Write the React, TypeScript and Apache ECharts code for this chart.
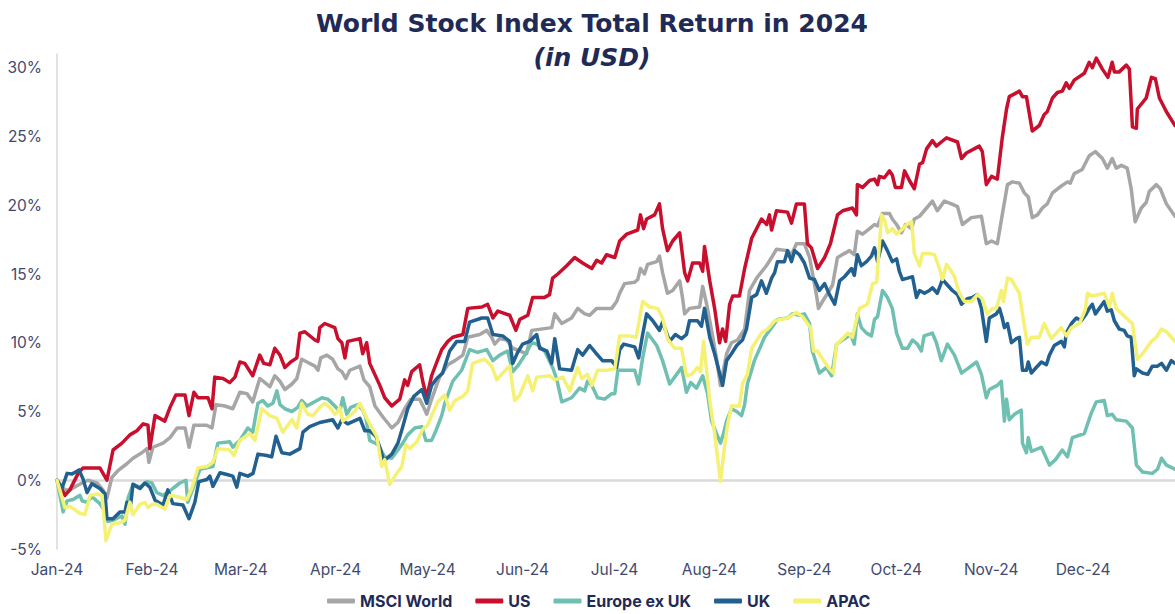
import { useEffect, useRef } from 'react';
import * as echarts from 'echarts';

// x values are days since 1 Jan 2024, y values are total return in %
const monthStartDays = [0, 31, 60, 91, 121, 152, 182, 213, 244, 274, 305, 335];
const monthLabels = ['Jan-24', 'Feb-24', 'Mar-24', 'Apr-24', 'May-24', 'Jun-24', 'Jul-24', 'Aug-24', 'Sep-24', 'Oct-24', 'Nov-24', 'Dec-24'];
const seriesNames = ['MSCI World', 'US', 'Europe ex UK', 'UK', 'APAC'];
const seriesColors = ['#a6a6a6', '#c8102e', '#70c0b2', '#21608f', '#f4f175'];
const titleText = 'World Stock Index Total Return in 2024';
const subtitleText = '(in USD)';

const msciWorld: [number, number][] = [[0,0],[2.6,-0.7],[4.2,-0.7],[6.5,-0.4],[8.2,-0.2],[10.1,0],[13.1,-0.2],[15,-0.7],[16.3,-1.3],[17.9,0.2],[19.9,0.7],[22.8,1.2],[24.8,1.6],[27.7,2.0],[29.4,2.3],[30,1.3],[31.3,2.4],[34.6,2.7],[36.9,3.1],[39.2,3.8],[41.8,3.8],[43.1,2.4],[44.7,4.0],[48.9,4.0],[50.6,3.8],[51.9,5.5],[54.8,5.4],[57.4,5.2],[59.7,6.4],[62,6.3],[63.9,5.7],[66.2,7.4],[67.9,7.1],[69.5,6.8],[71.1,7.6],[72.8,7.2],[74.4,6.6],[76.7,7.0],[78.3,7.4],[79.9,8.8],[81.6,8.6],[84.2,8.3],[85.2,8.0],[86.1,8.9],[88.1,9.1],[90,8.8],[91.7,8.1],[93,7.9],[94.3,7.4],[95.6,8.0],[98.9,8.3],[100.2,7.3],[102.1,6.8],[103.8,5.4],[106.4,4.6],[109.3,3.8],[111.3,4.2],[113.5,5.2],[115.5,5.9],[118.4,5.9],[119.7,5.3],[120.7,4.8],[122.3,5.9],[124.9,7.5],[127.6,8.4],[129.9,8.7],[132.5,9.1],[134.1,10.4],[138,10.6],[140.3,10.9],[141.9,10.4],[142.9,9.9],[144.5,10.3],[146.8,10.2],[148.8,9.6],[151.1,9.4],[153.3,9.2],[155,10.9],[161.5,11.1],[162.5,12.1],[164.8,11.4],[168,11.8],[170,12.5],[172.3,12.1],[173.9,12.0],[176.2,12.5],[181.1,12.5],[182.7,13.0],[183.7,13.6],[185.3,14.3],[188.6,14.4],[189.6,14.6],[190.5,15.4],[191.8,15.0],[192.8,15.7],[195.8,15.9],[196.7,16.3],[197.7,15.1],[199.3,13.6],[201,13.8],[203.3,14.5],[204.2,13.3],[204.9,12.1],[206.5,12.5],[209.8,12.6],[210.8,14.1],[212.1,12.8],[213.7,10.9],[215.3,8.9],[216.6,6.9],[218.6,9.2],[220.2,10.0],[222.2,10.2],[224.5,11.0],[226.1,13.8],[228.4,14.7],[231.6,15.6],[233.3,16.2],[234.9,16.8],[238.5,16.7],[239.8,16.4],[241.4,17.2],[244,17.2],[245.7,16.2],[248,13.4],[248.6,12.5],[249.9,13.0],[251.6,13.6],[253.2,14.2],[254.8,16.2],[258.7,16.7],[260.3,16.4],[261.3,18.1],[263,17.9],[265.3,18.3],[266.9,18.6],[267.9,18.5],[269.5,19.4],[271.8,19.4],[272.7,19.0],[274.1,18.6],[275.7,18.0],[277,18.6],[279,18.3],[279.9,19.0],[281.6,19.2],[283.9,19.8],[285.8,20.3],[287.4,19.6],[289.7,20.3],[292,20.1],[294,19.9],[295.6,18.6],[298.5,19.1],[301.8,19.2],[303.4,17.2],[305.1,17.4],[307,17.2],[308.6,19.3],[310.3,21.5],[311.9,21.7],[314.2,21.6],[315.8,20.9],[317.1,20.6],[318.4,19.1],[320.1,19.3],[321.7,19.8],[323.3,20.1],[325,20.9],[327.9,21.4],[329.9,21.7],[330.8,21.6],[332.1,22.3],[334.7,22.6],[337,23.6],[339,23.9],[341.3,23.4],[342.9,22.7],[344.5,23.4],[345.8,22.7],[347.5,22.9],[349.4,22.7],[350.7,21.2],[352,18.8],[354,19.8],[355.6,20.2],[356.6,21.0],[358.9,21.5],[360.2,21.2],[362.2,20.1],[365,19.2]];

const us: [number, number][] = [[0,0],[2.6,-1.1],[4.2,-0.7],[6.9,0.5],[8.5,0.9],[14,0.9],[16.3,0],[18.3,2.2],[21.2,2.7],[23.8,3.3],[26.1,3.6],[28.1,4.1],[29.7,4.0],[30.3,2.3],[32,4.7],[35.2,4.3],[36.9,5.3],[38.8,6.2],[41.8,6.2],[43.1,4.7],[44.7,6.4],[46,6.0],[49.3,6.0],[50.6,5.2],[51.5,7.5],[54.2,7.4],[56.4,7.1],[58.1,7.5],[59.7,8.6],[61.3,8.5],[63.9,7.6],[66.2,9.1],[67.5,8.5],[69.5,8.4],[71.1,9.6],[72.8,9.1],[74.4,8.2],[76.3,8.6],[78.3,8.9],[79.3,10.7],[80.9,10.8],[84.2,10.2],[85.2,10.1],[85.8,11.1],[87.4,11.4],[90.7,11.1],[91.7,10.3],[93,10.0],[94,8.9],[94.9,10.1],[98.9,10.3],[99.8,9.2],[101.1,10.0],[102.1,8.5],[105.4,6.9],[107,6.0],[109.3,5.4],[111.9,5.9],[113.5,7.3],[114.5,6.9],[115.8,7.9],[118.4,8.4],[119.4,7.2],[120.7,6.0],[122.3,7.6],[124,8.6],[125.6,9.5],[127.6,10.1],[129.2,10.4],[132.5,10.6],[134.1,12.5],[138.7,12.6],[140.6,12.8],[142.3,11.8],[143.9,12.3],[147.8,12.0],[149.8,10.9],[151.1,11.7],[153.7,12.0],[155.3,13.3],[159.2,13.3],[160.8,13.5],[161.8,14.7],[163.5,15.0],[166.4,15.6],[169,16.2],[171.6,15.8],[174.6,15.4],[176.2,16.0],[177.8,15.8],[179.4,16.4],[182.1,16.2],[183.7,17.4],[186,17.9],[189.6,18.2],[190.5,19.3],[191.5,18.3],[192.5,19.0],[195.1,19.3],[196.7,20.1],[197.7,18.3],[199.3,16.7],[201,17.4],[203.3,18.0],[204.9,15.1],[205.9,14.5],[207.5,15.8],[209.8,15.8],[210.8,15.2],[211.4,17.0],[213.1,14.5],[214.7,12.5],[216.3,10.0],[217.3,11.0],[218.3,10.1],[219.6,12.8],[220.6,13.4],[222.8,13.4],[224.5,15.4],[226.8,17.6],[230,19.0],[231.7,18.6],[232.6,19.3],[233.3,18.2],[234.9,19.6],[238.5,19.5],[239.8,18.7],[241.4,20.1],[244,20.1],[245,17.2],[246.3,16.9],[248.3,15.4],[250.6,16.2],[252.5,17.2],[254.8,19.3],[256.5,19.6],[259.7,19.8],[261,19.3],[261.3,21.5],[263,21.3],[265.3,21.8],[266.9,21.9],[267.9,21.5],[268.5,22.1],[270.1,22.0],[271.8,22.5],[272.7,22.2],[273.7,21.3],[275.7,21.3],[276.7,22.5],[278.3,21.8],[279.9,21.2],[281.6,23.0],[282.6,23.1],[283.9,24.1],[285.8,24.7],[287.1,24.3],[288.7,24.6],[290.4,24.9],[294,24.6],[295.3,23.4],[296.9,23.8],[301.1,24.3],[302.1,23.9],[303.4,21.5],[305.1,22.1],[307,21.9],[308.6,24.9],[310,27.0],[310.9,27.9],[312.6,28.1],[314.2,28.3],[315.2,27.9],[316.5,27.9],[318.4,25.4],[320.7,25.8],[322.3,26.6],[323.3,26.8],[325,27.8],[326.6,28.2],[328.2,28.3],[329.5,28.9],[330.5,28.5],[332.1,29.1],[335.4,29.6],[337,30.4],[338,30.0],[339.3,30.7],[341.3,29.9],[343.1,29.3],[344.5,30.4],[345.2,29.7],[346.8,29.7],[349.1,30.2],[350.1,29.9],[351.1,25.7],[352.4,25.6],[352.7,27.0],[355.6,27.8],[357.3,29.3],[358.6,29.2],[359.9,27.8],[362.2,26.8],[365,25.8]];

const europeExUk: [number, number][] = [[0,0],[2,-2.3],[3.3,-1.5],[5.2,-1.4],[7.5,-1.1],[8.2,-1.5],[9.8,-1.6],[11.4,-1.2],[14,-1.7],[15.7,-2.3],[16.6,-3.0],[18.3,-2.9],[21.2,-2.6],[22.2,-3.2],[23.2,-1.3],[24.8,-0.3],[27.1,-0.5],[29.4,-0.1],[31,-0.2],[32.6,-0.9],[34.6,-1.1],[36.2,-0.9],[37.8,-0.6],[40.1,-0.2],[42.1,0],[42.7,-1.6],[44.4,-0.6],[46.7,0.8],[48.9,0.9],[50.9,1.0],[52.5,2.7],[56.4,2.8],[57.4,2.4],[59.7,2.9],[62.3,3.8],[63.9,3.5],[65.6,5.6],[67.2,5.8],[68.8,5.4],[70.5,5.6],[71.8,6.5],[72.8,5.5],[74.4,5.2],[76.7,5.0],[78.6,5.3],[79.9,5.8],[81.6,5.4],[83.2,5.6],[86.5,6.0],[88.4,5.9],[90.7,5.4],[92.3,5.0],[93.3,6.0],[94.6,4.8],[95.9,5.3],[98.2,5.5],[99.8,5.1],[100.8,4.6],[102.1,2.9],[104.7,2.6],[107,1.7],[109.3,1.6],[111.3,2.2],[112.9,2.7],[114.5,3.3],[116.8,3.8],[119.1,3.9],[120.4,2.9],[122.3,2.9],[123.7,3.6],[125.6,4.7],[126.6,5.6],[129.2,7.2],[132.1,8.0],[134.7,9.5],[137.3,9.3],[140.3,9.5],[142.3,8.7],[144.5,9.1],[147.1,9.4],[148.8,7.9],[150.7,8.4],[153.3,9.3],[155,10.0],[156.6,9.9],[159.2,9.4],[161.8,8.2],[163.1,7.4],[164.8,5.7],[168,6.0],[170.6,6.7],[172.3,6.5],[173.2,7.2],[174.6,6.9],[176.5,6.0],[178.8,5.9],[181.1,6.3],[182.1,6.3],[183.1,8.0],[188.6,8.0],[189.9,7.0],[191.2,8.9],[192.8,10.7],[195.8,9.8],[197.7,8.7],[200,7.0],[202.3,7.7],[203.9,8.2],[205.5,6.4],[206.9,7.1],[208.8,6.7],[210.8,7.6],[212.4,6.3],[213.7,4.3],[215.3,3.4],[216.6,2.7],[217.6,3.4],[218.6,4.3],[220.2,5.2],[221.9,5.0],[223.5,4.7],[224.5,5.5],[225.4,7.0],[227.7,8.7],[231,10.4],[233.3,11.1],[235.2,11.7],[238.5,11.8],[240.1,12.1],[242.4,12.0],[244,12.1],[245.7,11.4],[246.6,9.4],[248.9,7.8],[251.2,8.2],[252.9,7.6],[254.5,9.9],[257.8,10.4],[259.1,10.6],[260.3,9.9],[261.3,12.1],[262.6,11.1],[264.3,10.7],[265.9,10.5],[266.9,11.7],[267.9,11.9],[269.5,13.8],[271.1,13.3],[272.7,12.5],[274.1,10.7],[276,9.6],[277.7,9.6],[279.3,10.2],[280.9,9.9],[282.2,9.4],[283.1,10.5],[285.8,10.7],[287.1,10.0],[288.7,8.7],[290.7,9.9],[293,9.1],[295.3,7.8],[297.2,8.1],[300.2,8.6],[301.8,7.7],[303.4,6.0],[304.4,6.6],[307,6.9],[308.3,7.2],[309.3,4.3],[310,5.9],[310.9,4.4],[312.6,4.8],[314.8,5.1],[315.2,2.7],[316.5,2.0],[317.1,3.1],[318.1,2.1],[321.4,2.4],[324,1.1],[326,1.5],[328.2,2.2],[329.9,1.7],[331.5,3.1],[335.4,3.4],[337.7,4.9],[339.3,5.7],[341.9,5.8],[342.9,4.7],[344.5,4.8],[345.8,4.4],[349.1,4.3],[351.1,3.8],[352.4,1.1],[354.4,0.6],[357.6,0.5],[359.3,0.8],[360.6,1.6],[362.2,1.1],[365,0.8]];

const uk: [number, number][] = [[0,0],[1.6,-0.6],[3.3,0.5],[4.9,0.45],[7.2,0.75],[8.5,0.1],[9.8,-0.9],[11.4,-0.25],[14,-0.6],[15.7,-1.0],[16.3,-2.8],[18.3,-2.8],[20.6,-2.3],[22.2,-2.3],[22.8,-1.6],[24.1,-1.7],[24.8,-0.3],[27.1,-0.6],[28.7,-0.2],[30.3,-0.5],[32,-1.45],[34.6,-1.8],[36.2,-0.7],[37.8,-1.7],[41.1,-1.8],[43.1,-2.8],[45,-1.6],[46.3,-0.1],[48.9,0.05],[49.9,0.3],[50.9,-0.45],[53.2,0.55],[55.8,0.4],[57.4,0.3],[58.7,-0.5],[59.7,0.5],[62.3,0.3],[64,0.5],[65.6,1.9],[68.5,1.8],[70.1,1.7],[71.5,3.2],[73.4,2.0],[76,1.9],[79.3,2.3],[80.3,3.5],[82.5,3.9],[85.8,4.2],[90,4.4],[91.7,3.8],[93,4.4],[94.9,4.1],[98.9,4.5],[100.5,3.6],[102.1,3.6],[104.1,3.2],[105.4,2.4],[106.7,1.4],[109.3,1.9],[111.3,2.7],[112.9,3.9],[114.5,5.2],[116.5,6.1],[119.1,6.6],[120.7,5.6],[122.3,6.9],[124,7.4],[125.9,7.8],[128.2,9.4],[130.5,10.1],[133.1,10.1],[134.7,11.5],[138.7,11.8],[140.6,11.8],[142.3,10.6],[145.5,10.5],[147.8,10.1],[148.8,8.5],[150.4,9.3],[152,9.9],[154.3,10.1],[156.6,10.6],[157.6,9.6],[159.9,9.4],[161.5,8.5],[162.5,10.3],[164.1,8.1],[168,8.0],[170,9.5],[171.6,9.1],[173.9,9.8],[176.5,9.1],[178.1,8.7],[181.1,8.7],[182.7,8.2],[183.7,9.5],[185,9.9],[188.6,9.7],[189.9,8.9],[191.2,10.6],[192.5,12.1],[194.5,11.6],[196.7,10.9],[197.7,11.5],[200,10.1],[201.9,10.6],[203.9,10.3],[205.5,10.6],[206.5,11.6],[209.1,11.6],[210.4,11.2],[211.4,12.5],[213.1,10.4],[214.7,9.2],[216.3,7.8],[217.3,6.9],[218.6,8.7],[220.2,9.2],[221.9,9.8],[223.8,10.2],[225.1,11.0],[226.8,13.3],[228.4,13.5],[230,14.5],[231.6,13.6],[233.3,14.7],[234.3,15.1],[235.2,15.9],[237.5,15.9],[238.5,16.7],[239.8,15.9],[240.8,16.7],[242.4,16.4],[244,15.8],[245.7,14.7],[247.3,14.6],[248.9,13.8],[250.6,14.3],[252.2,13.5],[253.9,12.8],[255.5,14.5],[257.1,14.8],[259.4,15.4],[260.3,14.9],[261.3,16.4],[262.6,15.6],[264.3,15.9],[265.9,16.3],[266.9,16.9],[267.9,15.9],[269.5,17.4],[271.1,16.7],[272.7,15.9],[274.1,16.1],[275,15.2],[276,14.6],[277.7,14.7],[279.3,14.8],[280.6,13.3],[281.6,13.8],[283.2,13.6],[284.8,13.8],[285.8,14.0],[287.4,13.6],[289.1,14.6],[290.7,14.2],[292.3,13.8],[294,13.5],[295.3,12.8],[297.2,13.2],[298.9,13.3],[300.5,13.5],[301.8,12.5],[303.4,10.1],[304.4,11.8],[306.7,12.1],[307.7,12.5],[308.6,11.8],[309.3,11.1],[310.3,11.4],[311.6,10.0],[313.2,10.3],[314.2,10.4],[315.2,8.0],[316.5,8.0],[317.1,8.6],[318.1,7.8],[319.7,8.2],[321.4,8.6],[323,8.4],[324,9.1],[325.6,9.8],[327.9,10.1],[328.9,9.7],[329.5,10.7],[331.2,11.4],[332.8,11.8],[334.4,11.6],[336,12.1],[337,12.5],[338,12.8],[339,12.1],[340.3,12.5],[341.9,13.0],[342.9,12.3],[344.2,12.4],[345.2,11.6],[346.8,11.0],[348.4,10.9],[349.4,10.5],[350.7,10.4],[351.7,7.6],[352.4,8.1],[354.4,7.8],[356.1,7.7],[357.6,8.3],[359.3,8.3],[360.6,8.5],[362.2,8.0],[363.8,8.7],[365,8.5]];

const apac: [number, number][] = [[0,0],[2.6,-2.0],[4.2,-1.9],[7.5,-2.4],[9.1,-2.5],[10.8,-1.1],[13,-1.0],[14.7,-1.1],[16,-4.4],[17.9,-3.2],[20.6,-3.1],[22.2,-2.9],[23.8,-1.6],[24.8,-2.5],[27.1,-1.75],[28.7,-1.6],[29.7,-2.0],[31,-1.75],[32.6,-1.75],[35.2,-2.1],[36.9,-1.1],[39.5,-1.2],[42.4,-1.4],[44,-0.6],[46,0.9],[48.9,1.0],[50.9,1.3],[52.5,2.3],[56.4,2.2],[57.7,1.8],[59.7,2.9],[63,3.4],[64.6,2.9],[66.9,5.2],[69.5,4.7],[71.8,4.5],[73.7,3.5],[76.7,4.4],[78.3,3.8],[79.9,5.6],[81.9,4.8],[83.5,4.7],[85.8,5.3],[87.4,5.6],[89.1,5.3],[90.7,4.8],[91.7,5.0],[92.3,5.3],[93.3,4.3],[95.6,4.7],[97.2,5.0],[98.9,5.6],[100.5,4.8],[102.8,3.8],[104.4,3.2],[106,1.0],[107,1.5],[108.6,-0.3],[110.9,0.5],[112.6,1.0],[113.9,2.6],[115.2,2.3],[117.5,2.8],[119.4,3.7],[121,4.0],[122.7,4.9],[124.3,5.7],[126.6,6.2],[128.2,5.1],[129.9,5.8],[132.5,6.1],[134.1,6.5],[135.7,8.5],[139.6,8.8],[141.9,8.3],[143.6,7.3],[145.5,7.8],[147.8,8.3],[149.4,5.8],[151.1,6.2],[153.7,7.6],[155.3,6.5],[156.6,7.5],[160.8,7.6],[162.5,7.3],[165.1,7.5],[167.4,6.5],[170,8.2],[171.3,7.4],[173.2,7.7],[174.6,6.9],[176.5,8.0],[179.4,8.0],[182.1,8.1],[183.7,10.5],[186.8,10.5],[189.1,10.4],[191.2,13.0],[193.5,12.6],[196.1,12.5],[197.7,11.8],[199.3,10.3],[201.6,9.6],[203.9,9.6],[205.5,7.6],[207.2,7.7],[209.1,8.2],[210.1,7.9],[211.1,10.1],[213.1,5.8],[214.7,3.4],[216.6,-0.1],[217.9,2.4],[218.9,4.0],[220.2,5.4],[222.8,5.4],[223.8,7.0],[225.4,7.7],[226.8,9.6],[230,10.7],[232,11.0],[234.3,11.6],[238.5,11.8],[241.4,12.2],[243.4,11.9],[245,11.4],[246,11.1],[247,9.4],[248.3,9.4],[250,8.8],[252.2,8.1],[253.5,7.8],[254.5,9.9],[256.5,10.3],[258.1,10.7],[259.7,10.4],[260.9,11.6],[262,12.5],[264.6,12.8],[266.3,14.3],[267.6,14.4],[269.2,19.3],[270.2,18.9],[271.2,18.0],[272.8,18.3],[274.1,17.9],[275.7,18.2],[277.4,18.6],[279,18.8],[279.9,16.5],[281.6,15.6],[282.6,16.5],[284.8,16.5],[286.5,16.4],[288.1,15.4],[289.1,14.6],[290.4,15.7],[292,15.2],[293,14.8],[294.6,13.6],[296.3,13.0],[298.5,13.0],[300.5,13.5],[302.1,13.2],[303.7,12.1],[305.4,12.5],[306.7,12.5],[307.7,13.3],[308.3,13.8],[309,13.0],[310.3,14.7],[311.6,14.6],[314.2,13.6],[315.2,12.1],[316.8,9.9],[318.1,10.4],[320.7,10.4],[322.3,11.4],[324.6,10.3],[327.9,11.1],[329.5,10.5],[331.2,11.1],[333.8,11.4],[335.7,12.4],[336.4,13.6],[338,13.4],[341.9,13.6],[343.6,12.6],[344.5,13.6],[345.8,12.5],[349.1,11.8],[351.1,11.4],[352.7,8.8],[354.4,9.2],[357.3,10.1],[358.9,10.4],[360.6,11.0],[362.2,10.8],[365,10.1]];

const allSeries = [msciWorld, us, europeExUk, uk, apac];

const FONT = 'Inter';
const TITLE_FONT = 'DejaVu Sans';
const NAVY = '#1f2a56';
const AXIS_TEXT = '#3f4a6e';

export default function App() {
  const ref = useRef<HTMLDivElement>(null);

  useEffect(() => {
    document.body.style.margin = '0';
    if (!ref.current) return;
    const chart = echarts.init(ref.current, undefined, { renderer: 'svg' });

    const series: any[] = allSeries.map((data, i) => ({
      name: seriesNames[i],
      type: 'line',
      data,
      showSymbol: false,
      symbol: 'none',
      lineStyle: { width: 3.5, color: seriesColors[i], join: 'round', cap: 'round' },
      itemStyle: { color: seriesColors[i] },
      emphasis: { disabled: true },
      z: 3 + i,
    }));
    series[0].markLine = {
      silent: true,
      symbol: 'none',
      label: { show: false },
      lineStyle: { color: '#d9d9d9', width: 2.5, type: 'solid' },
      data: [{ yAxis: 0 }],
      z: 1,
    };

    chart.setOption({
      animation: false,
      backgroundColor: '#ffffff',
      grid: { left: 57, right: 0, top: 54, bottom: 65, containLabel: false, outerBoundsMode: 'none' },
      graphic: [
        {
          type: 'text',
          x: 592,
          y: 23,
          style: {
            text: titleText,
            fontFamily: TITLE_FONT,
            fontWeight: 'bold',
            fontSize: 25,
            fill: NAVY,
            align: 'center',
            verticalAlign: 'middle',
          },
        },
        {
          type: 'text',
          x: 592,
          y: 57,
          style: {
            text: subtitleText,
            fontFamily: TITLE_FONT,
            fontWeight: 'bold',
            fontStyle: 'italic',
            fontSize: 25,
            fill: NAVY,
            align: 'center',
            verticalAlign: 'middle',
          },
        },
      ],
      legend: {
        data: seriesNames,
        left: 322,
        top: 588,
        icon: 'roundRect',
        itemWidth: 28,
        itemHeight: 5,
        itemGap: 23,
        textStyle: { fontFamily: FONT, fontWeight: 'bold', fontSize: 16, color: NAVY },
      },
      xAxis: {
        type: 'value',
        min: 0,
        max: 365,
        axisLine: { show: false },
        axisTick: { show: false },
        splitLine: { show: false },
        axisLabel: {
          customValues: monthStartDays,
          formatter: (v: number) => {
            const idx = monthStartDays.indexOf(v);
            return idx >= 0 ? monthLabels[idx] : '';
          },
          color: AXIS_TEXT,
          fontFamily: FONT,
          fontSize: 15.5,
          margin: 12,
        },
      },
      yAxis: {
        type: 'value',
        min: -5,
        max: 31,
        interval: 5,
        axisLine: { show: true, lineStyle: { color: '#d9d9d9', width: 1.5 } },
        axisTick: { show: false },
        splitLine: { show: false },
        axisLabel: {
          formatter: (v: number) => (v % 5 === 0 ? `${v}%` : ''),
          color: AXIS_TEXT,
          fontFamily: FONT,
          fontSize: 15.5,
          margin: 15,
        },
      },
      series,
    });

    return () => chart.dispose();
  }, []);

  return (
    <div
      ref={ref}
      style={{ position: 'fixed', left: 0, top: 0, width: 1175, height: 614, background: '#fff' }}
    />
  );
}
